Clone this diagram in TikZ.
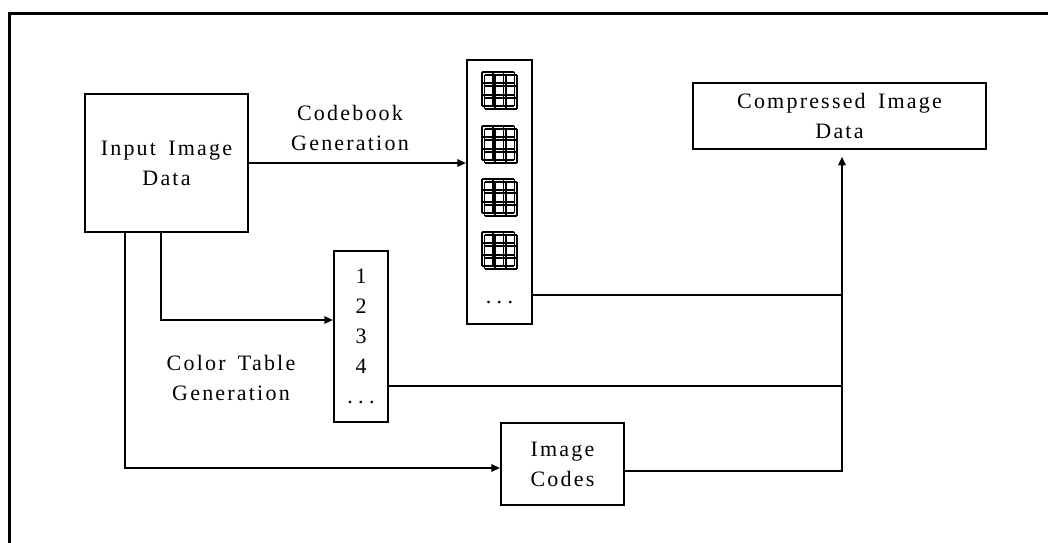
\documentclass[tikz,border=0pt]{standalone}
\usepackage{fontspec}
\usetikzlibrary{arrows.meta}
\newfontfamily\lblfont[LetterSpace=10, WordSpace=1.6]{Liberation Serif}
\newfontfamily\numfont{Liberation Serif}
\newcommand\lbl{\lblfont\fontsize{16.5}{22.5}\selectfont}
\newcommand\nums{\numfont\fontsize{16.5}{22.5}\selectfont}
\newcommand\dotrow{.\hspace{4pt}.\hspace{4pt}.}
\tikzset{
  box/.style n args={2}{draw, line width=1.5pt, inner sep=0pt, align=center,
    minimum width=#1*0.75pt, minimum height=#2*0.75pt, font=\lbl},
  wire/.style={line width=1.5pt},
  arrow/.style={wire, -{Triangle[length=6.5pt,width=5.5pt]}},
  cell/.style={line width=1.3pt},
  caption/.style={align=center, font=\lbl, inner sep=0pt},
}
\begin{document}
\begin{tikzpicture}[x=0.75pt, y=-0.75pt]
  \fill[white] (0,0) rectangle (1048,542);
  \useasboundingbox (0,0) rectangle (1048,542);
  \clip (0,0) rectangle (1048,542);

  % outer frame
  \draw[line width=2.25pt] (9.5,560) -- (9.5,13.5) -- (1060,13.5);

  % blocks
  \node[box={163}{138}] (in) at (166.5,163) {Input Image\\Data};
  \node[box={65}{264}]  (cb) at (499.5,192) {};
  \node[box={293}{66}]  (cp) at (839.5,116) {Compressed Image\\Data};
  \node[box={54}{171}, font=\nums] (ct) at (361,336.5) {1\\2\\3\\4\\\dotrow};
  \node[box={123}{82}]  (ic) at (562.5,464) {Image\\Codes};

  % codebook entries: small 3x3 grids with doubled rules
  \foreach \gy in {72,126,179,232} {
    \foreach \dx/\dy in {0/0, 2.5/3} {
      \begin{scope}[shift={(482+\dx,\gy+\dy)}]
        \foreach \k in {0,1,2,3} {
          \draw[cell] (\k*10.8,0) -- (\k*10.8,34);
          \draw[cell] (0,\k*11.33) -- (32.4,\k*11.33);
        }
      \end{scope}
    }
  }
  \node[anchor=base, font=\nums, inner sep=0pt] (cbdots) at (499.5,303) {\dotrow};

  % labels
  \node[caption] (cblabel) at (350,128) {Codebook\\Generation};
  \node[caption] (ctlabel) at (231,378) {Color Table\\Generation};

  % helper coordinates
  \coordinate (jx) at (842,0);
  \coordinate (l1) at (161,0);
  \coordinate (l2) at (125,0);
  \coordinate (ctin) at (0,320);
  \coordinate (icin) at (0,468);
  \coordinate (cbo) at (0,295);
  \coordinate (cto) at (0,386);
  \coordinate (ico) at (0,471);

  % connectors
  \draw[arrow] (in.east) -- (in.east -| cb.west);
  \draw[arrow] (in.south -| l1) |- (ct.west |- ctin);
  \draw[arrow] (in.south -| l2) |- (ic.west |- icin);
  \draw[wire] (cb.east |- cbo) -- (cbo -| jx);
  \draw[wire] (ct.east |- cto) -- (cto -| jx);
  \draw[arrow, shorten >=5pt] (ic.east |- ico) -| (cp.south -| jx);
\end{tikzpicture}
\end{document}
